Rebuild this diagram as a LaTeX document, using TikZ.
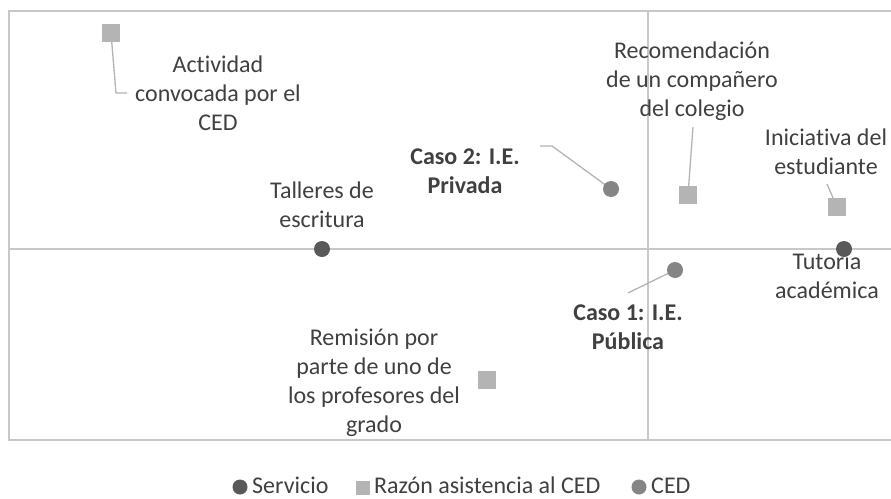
\documentclass[tikz,border=0pt]{standalone}
\usepackage{fontspec}
\setmainfont{Carlito}[Ligatures=NoCommon]
\usetikzlibrary{positioning}

\definecolor{srv}{HTML}{595959}
\definecolor{razon}{HTML}{B4B4B4}
\definecolor{ced}{HTML}{858585}
\definecolor{txt}{HTML}{404040}
\definecolor{eje}{HTML}{C8C8C8}

\begin{document}
\begin{tikzpicture}[x=1pt,y=-1pt,
  every node/.style={text=txt,font=\fontsize{24}{29}\selectfont,align=center},
  servicio/.style={circle,fill=srv,inner sep=0pt,minimum size=16pt},
  razon/.style={rectangle,fill=razon,inner sep=0pt,minimum size=18pt},
  cedpt/.style={circle,fill=ced,inner sep=0pt,minimum size=16pt},
  guia/.style={draw=razon,line width=1.3pt},
  negrita/.style={font=\fontsize{24}{29}\selectfont\bfseries},
  ley/.style={anchor=base west,inner sep=0pt,text depth=0pt,align=left}]

\useasboundingbox (0,0) rectangle (891,498);

% marco y ejes
\draw[eje,line width=1.3pt] (893,11) -- (9,11) -- (9,440) -- (893,440);
\draw[eje,line width=1.3pt] (9,249) -- (893,249) (648,11) -- (648,440);

% etiquetas
\node (l-act) at (218,93) {Actividad\\convocada por el\\CED};
\node (l-tal) at (322,205) {Talleres de\\escritura};
\node[negrita] (l-caso2) at (465,171) {Caso 2: I.E.\\Privada};
\node (l-rec) at (692,81) {Recomendación\\de un compañero\\del colegio};
\node (l-ini) at (826,152) {Iniciativa del\\estudiante};
\node (l-tut) at (827,276) {Tutoria\\académica};
\node[negrita] (l-caso1) at (628,327) {Caso 1: I.E.\\Pública};
\node (l-rem) at (374,383) {Remisión por\\parte de uno de\\los profesores del\\grado};

% puntos guia
\coordinate (g-act1) at (116,93);
\coordinate (g-act2) at (127,93);
\coordinate (g-caso2a) at (540,146);
\coordinate (g-caso2b) at (552,146);
\coordinate (g-rec) at (693,127);
\coordinate (g-ini) at (827,184);
\coordinate (g-caso1) at (628,293);

% marcadores
\foreach \n/\x/\y in {act/111/33, tal/322/249, caso2/611/189, rec/688/195,
    ini/837/207, tut/844/249, caso1/675/270, rem/487/380}
  \path (\x,\y) coordinate (c-\n);

\draw[guia] (c-act) -- (g-act1) -- (g-act2);
\draw[guia] (g-caso2a) -- (g-caso2b) -- (c-caso2);
\draw[guia] (g-rec) -- (c-rec);
\draw[guia] (g-ini) -- (c-ini);
\draw[guia] (g-caso1) -- (c-caso1);

\foreach \n/\s in {act/razon, tal/servicio, caso2/cedpt, rec/razon, ini/razon,
    tut/servicio, caso1/cedpt, rem/razon}
  \node[\s] (p-\n) at (c-\n) {};

% leyenda
\node[servicio,minimum size=15pt] (k-srv) at (240,487) {};
\node[ley] (t-srv) at (252,493.5) {Servicio};
\node[razon,minimum size=14pt] (k-raz) at (363,488) {};
\node[ley] (t-raz) at (374,493.5) {Razón asistencia al CED};
\node[cedpt,minimum size=15pt] (k-ced) at (639,487) {};
\node[ley] (t-ced) at (651,493.5) {CED};

\end{tikzpicture}
\end{document}
